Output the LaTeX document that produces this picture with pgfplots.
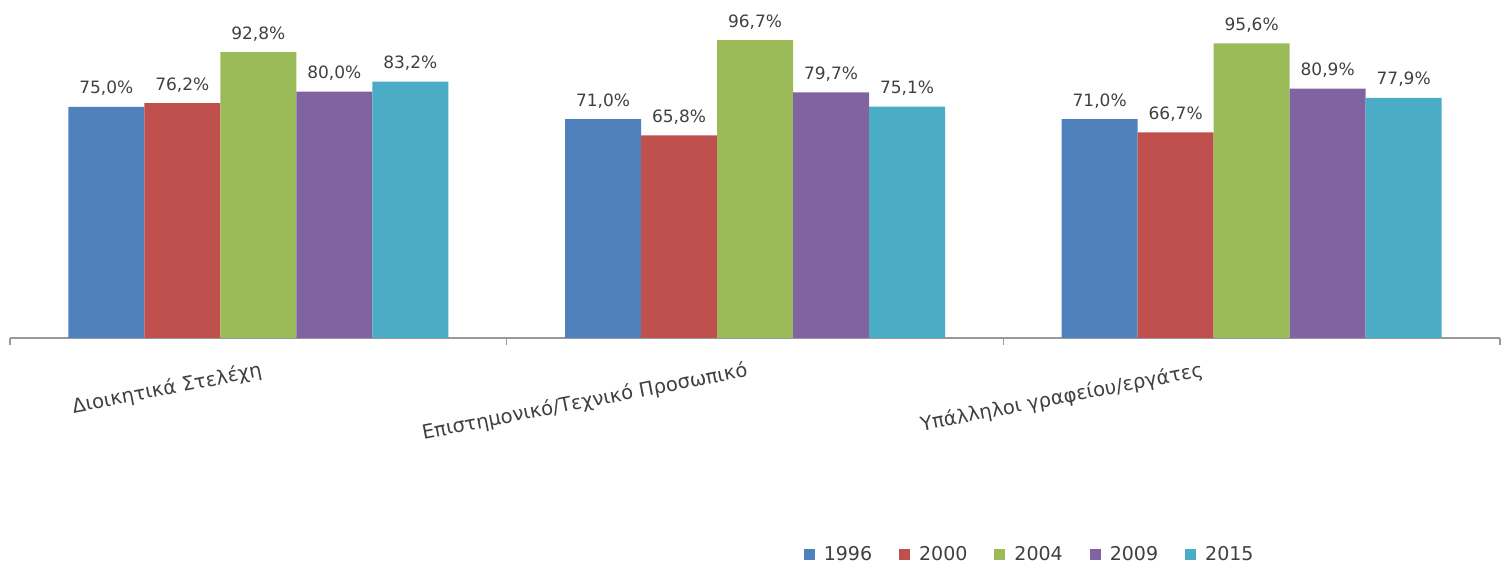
\documentclass[border=0pt]{standalone}
\usepackage{fontspec}
\setmainfont{DejaVu Sans}
\usepackage{pgfplots}
\pgfplotsset{compat=1.18}
\definecolor{c1}{HTML}{4F81BD}
\definecolor{c2}{HTML}{C0504D}
\definecolor{c3}{HTML}{9BBB59}
\definecolor{c4}{HTML}{8064A2}
\definecolor{c5}{HTML}{4BACC6}
\definecolor{txt}{HTML}{404040}
\begin{document}
\begin{tikzpicture}[x=1pt,y=1pt]
\path[use as bounding box] (0,0) rectangle (754.5,283.5);
\begin{axis}[
  at={(5pt,114.5pt)}, anchor=south west,
  scale only axis, width=745pt, height=169pt,
  ymin=0, ymax=109.7, xmin=-0.5, xmax=2.5,
  /pgf/number format/assume math mode=true,
  ybar=0pt, bar width=38pt,
  every axis plot post/.append style={legend image code/.code={\fill[##1] (0pt,-2.75pt) rectangle (5.5pt,2.75pt);}},
  hide y axis,
  axis x line*=bottom,
  x axis line style={draw=black!40, line width=0.7pt},
  xtick={0.008,0.986,1.903},
  xticklabels={Διοικητικά Στελέχη, Επιστημονικό/Τεχνικό Προσωπικό, Υπάλληλοι γραφείου/εργάτες},
  major tick length=0pt,
  minor xtick={-0.5,0.5,1.5,2.5},
  minor tick length=3.5pt,
  tick align=outside,
  minor x tick style={draw=black!40, line width=0.7pt},
  xticklabel style={rotate=11, anchor=north east, font=\fontsize{9.8}{11}\selectfont, text=txt, yshift=-7.5pt},
  nodes near coords={\pgfmathprintnumber[fixed,fixed zerofill,precision=1,use comma]{\pgfplotspointmeta}\%},
  every node near coord/.append style={font=\fontsize{8.5}{10}\selectfont, text=txt, yshift=2pt},
  legend columns=5,
  legend style={draw=none, at={(0.685,-0.642)}, anchor=center, font=\fontsize{9.5}{11}\selectfont, text=txt,
    /tikz/every odd column/.append style={column sep=2.5pt},
    /tikz/every even column/.append style={column sep=11.5pt}},
]
\addplot[fill=c1, draw=none] coordinates {(0,75.0) (1,71.0) (2,71.0)};
\addplot[fill=c2, draw=none] coordinates {(0,76.2) (1,65.8) (2,66.7)};
\addplot[fill=c3, draw=none] coordinates {(0,92.8) (1,96.7) (2,95.6)};
\addplot[fill=c4, draw=none] coordinates {(0,80.0) (1,79.7) (2,80.9)};
\addplot[fill=c5, draw=none] coordinates {(0,83.2) (1,75.1) (2,77.9)};
\legend{1996,2000,2004,2009,2015}
\end{axis}
\end{tikzpicture}
\end{document}
